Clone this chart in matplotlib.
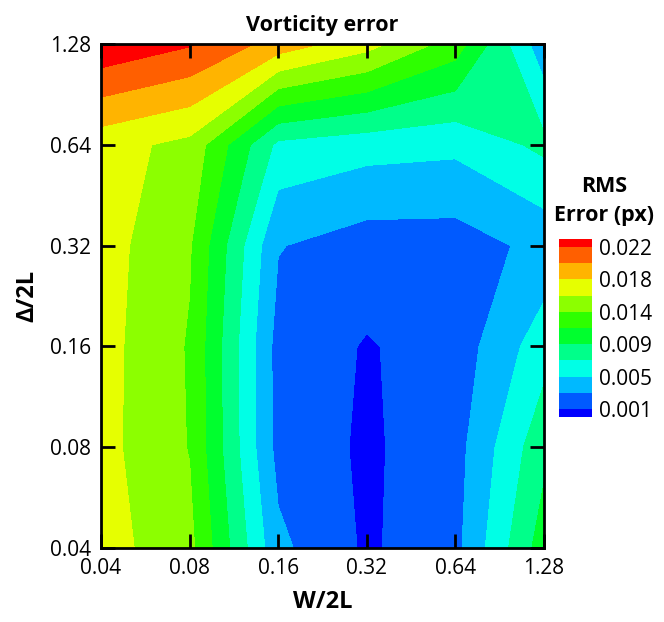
import numpy as np
import matplotlib
matplotlib.use("Agg")
import matplotlib.pyplot as plt

plt.rcParams['font.family'] = ['Open Sans', 'DejaVu Sans']

# grid values
w_vals = [0.04, 0.08, 0.16, 0.32, 0.64, 1.28]
d_vals = [0.04, 0.08, 0.16, 0.32, 0.64, 1.28]
tick_labels = ['0.04', '0.08', '0.16', '0.32', '0.64', '1.28']

# RMS error rows: from Delta/2L = 0.04 (bottom) to 1.28 (top)
row_004 = [0.0166, 0.0142, 0.0036, 0.00068, 0.0025, 0.0105]
row_008 = [0.0164, 0.0135, 0.0024, 0.00065, 0.0023, 0.0088]
row_016 = [0.0165, 0.0134, 0.0023, 0.00084, 0.0019, 0.0064]
row_032 = [0.0166, 0.0138, 0.0032, 0.0021, 0.0021, 0.0037]
row_064 = [0.0165, 0.0151, 0.0068, 0.0060, 0.0057, 0.0078]
row_128 = [0.0237, 0.0222, 0.0190, 0.0165, 0.0126, 0.0038]

levels = [-0.0011, 0.001, 0.0031, 0.0052, 0.0073, 0.0094, 0.0115,
          0.0136, 0.0157, 0.0178, 0.0199, 0.022, 0.0241]
band_colors = ['#0000FF', '#005AFF', '#00B9FF', '#00FFE6', '#00FF8A', '#00FF2E',
               '#2EFF00', '#8CFF00', '#E6FF00', '#FFB400', '#FF5F00', '#FF0000']
cbar_ticks = [0.001, 0.0052, 0.0094, 0.0136, 0.0178, 0.022]
cbar_labels = ['0.001', '0.005', '0.009', '0.014', '0.018', '0.022']

Z = np.array([row_004, row_008, row_016, row_032, row_064, row_128])
X = np.log2(np.array(w_vals))
Y = np.log2(np.array(d_vals))

fig = plt.figure(figsize=(6.64, 6.22), dpi=100)
ax = fig.add_axes([101/664, 1-548/622, (544-101)/664, (548-44)/622])
cs = ax.contourf(X, Y, Z, levels=levels, colors=band_colors)

ax.set_xlim(X[0], X[-1])
ax.set_ylim(Y[0], Y[-1])
ax.set_xticks(X)
ax.set_xticklabels(tick_labels)
ax.set_yticks(Y)
ax.set_yticklabels(tick_labels)
ax.tick_params(direction='in', length=10, width=2, labelsize=15, pad=7,
               top=True, right=True)
for s in ax.spines.values():
    s.set_linewidth(2)
ax.set_xlabel('W/2L', fontsize=17, fontweight='bold', labelpad=8)
ax.set_ylabel('Δ/2L', fontsize=17, fontweight='bold', labelpad=8)
ax.set_title('Vorticity error', fontsize=15.5, fontweight='bold', pad=9)

cax = fig.add_axes([559/664, 1-417/622, 33/664, 178/622])
cb = fig.colorbar(cs, cax=cax, spacing='proportional')
cax.set_ylim(levels[0] + 0.00105, levels[-1] - 0.00105)
cb.set_ticks(cbar_ticks)
cb.set_ticklabels(cbar_labels)
cax.tick_params(length=0, labelsize=15, pad=5)
cb.outline.set_visible(False)
fig.text(604/664, 1-201/622, 'RMS\nError (px)', ha='center', va='center',
         fontsize=15.5, fontweight='bold', linespacing=1.45)

fig.savefig('out.png', dpi=100)
